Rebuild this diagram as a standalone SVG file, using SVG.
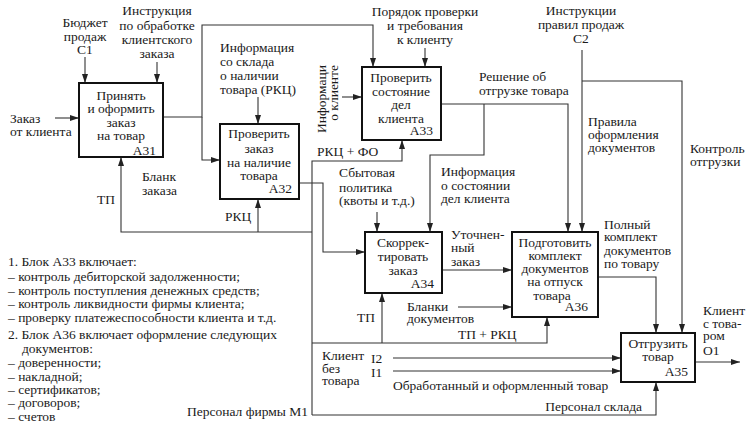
<svg xmlns="http://www.w3.org/2000/svg" width="755" height="426" viewBox="0 0 755 426">
<style>
text{font-family:"Liberation Serif","Times New Roman",serif;font-size:13.5px;fill:#1a1a1a}
.n{font-size:13.5px}
.c{text-anchor:middle}
.e{text-anchor:end}
.box{fill:#fff;stroke:#111;stroke-width:2}
.ln{fill:none;stroke:#333;stroke-width:1.1}
.a{marker-end:url(#ah)}
</style>
<defs>
<marker id="ah" viewBox="0 0 9 6" refX="9" refY="3" markerWidth="9" markerHeight="6" orient="auto" markerUnits="userSpaceOnUse">
<path d="M0,0 L9,3 L0,6 z" fill="#222"/>
</marker>
</defs>
<rect width="755" height="426" fill="#fff"/>
<g id="connectors">
<path class="ln a" d="M55,118 H79"/>
<path class="ln a" d="M85,57 V83"/>
<path class="ln a" d="M157,62 V83"/>
<path class="ln a" d="M163,117 H202 V25 H373 V67"/>
<path class="ln a" d="M202,117 V160 H220"/>
<path class="ln a" d="M258,97 V124"/>
<path class="ln a" d="M425,48 V67"/>
<path class="ln a" d="M342,97 H362"/>
<path class="ln a" d="M299,183 H323 V252 H365"/>
<path class="ln a" d="M312,232 V161 H402 V140"/>
<path class="ln a" d="M312,232 H121 V157"/>
<path class="ln a" d="M258,232 V199"/>
<path class="ln" d="M312,415 V232"/>
<path class="ln a" d="M382,343 V293"/>
<path class="ln a" d="M312,343 H547 V317"/>
<path class="ln a" d="M312,415 H656 V382"/>
<path class="ln a" d="M441,104 H568 V232"/>
<path class="ln a" d="M484,104 V155 H430 V232"/>
<path class="ln a" d="M377,212 V232"/>
<path class="ln a" d="M582,50 V232"/>
<path class="ln a" d="M582,81 H682 V333"/>
<path class="ln a" d="M442,270 H512"/>
<path class="ln a" d="M458,307 H512"/>
<path class="ln a" d="M598,277 H656 V333"/>
<path class="ln a" d="M393,358 H621"/>
<path class="ln a" d="M393,371 H621"/>
<path class="ln a" d="M695,362 H740"/>
</g>
<g id="A31">
<rect class="box" x="79" y="83" width="84" height="74"/>
<text class="c" x="121" y="100">Принять</text>
<text class="c" x="121" y="113">и оформить</text>
<text class="c" x="121" y="127">заказ</text>
<text class="c" x="121" y="140">на товар</text>
<text class="e" x="156" y="155">A31</text>
</g>
<g id="A32">
<rect class="box" x="220" y="124" width="79" height="75"/>
<text class="c" x="259" y="138">Проверить</text>
<text class="c" x="259" y="153">заказ</text>
<text class="c" x="259" y="167">на наличие</text>
<text class="c" x="259" y="180">товара</text>
<text class="e" x="292" y="193">A32</text>
</g>
<g id="A33">
<rect class="box" x="362" y="67" width="79" height="73"/>
<text class="c" x="401" y="82">Проверить</text>
<text class="c" x="401" y="96">состояние</text>
<text class="c" x="401" y="109">дел</text>
<text class="c" x="401" y="123">клиента</text>
<text class="e" x="433" y="135">A33</text>
</g>
<g id="A34">
<rect class="box" x="365" y="232" width="77" height="61"/>
<text class="c" x="403" y="247">Скоррек-</text>
<text class="c" x="403" y="261">тировать</text>
<text class="c" x="403" y="275">заказ</text>
<text class="e" x="434" y="288">A34</text>
</g>
<g id="A36">
<rect class="box" x="512" y="232" width="86" height="85"/>
<text class="c" x="555" y="247">Подготовить</text>
<text class="c" x="555" y="260">комплект</text>
<text class="c" x="555" y="273">документов</text>
<text class="c" x="555" y="286">на отпуск</text>
<text class="c" x="552" y="300">товара</text>
<text class="e" x="588" y="311">A36</text>
</g>
<g id="A35">
<rect class="box" x="621" y="333" width="74" height="49"/>
<text class="c" x="658" y="348">Отгрузить</text>
<text class="c" x="658" y="361">товар</text>
<text class="e" x="688" y="376">A35</text>
</g>
<g id="labels">
<text x="10" y="123">Заказ</text>
<text x="10" y="136">от клиента</text>
<text class="c" x="85" y="27">Бюджет</text>
<text class="c" x="85" y="41">продаж</text>
<text class="c" x="85" y="54">C1</text>
<text class="c" x="157" y="15">Инструкция</text>
<text class="c" x="157" y="30">по обработке</text>
<text class="c" x="157" y="44">клиентского</text>
<text class="c" x="157" y="58">заказа</text>
<text x="220" y="52">Информация</text>
<text x="220" y="66">со склада</text>
<text x="220" y="80">о наличии</text>
<text x="220" y="94">товара (РКЦ)</text>
<text class="c" x="425" y="16">Порядок проверки</text>
<text class="c" x="425" y="30">и требования</text>
<text class="c" x="425" y="44">к клиенту</text>
<text class="e" transform="translate(326,65) rotate(-90)">Информаци</text>
<text class="e" transform="translate(338,65) rotate(-90)">о клиенте</text>
<text x="479" y="81">Решение об</text>
<text x="479" y="95">отгрузке товара</text>
<text x="441" y="176">Информация</text>
<text x="441" y="190">о состоянии</text>
<text x="441" y="203">дел клиента</text>
<text class="c" x="581" y="15">Инструкции</text>
<text class="c" x="581" y="29">правил продаж</text>
<text class="c" x="581" y="43">C2</text>
<text x="588" y="126">Правила</text>
<text x="588" y="139">оформления</text>
<text x="588" y="152">документов</text>
<text x="690" y="153">Контроль</text>
<text x="690" y="166">отгрузки</text>
<text x="339" y="177">Сбытовая</text>
<text x="339" y="192">политика</text>
<text x="339" y="205">(квоты и т.д.)</text>
<text x="317" y="156">РКЦ + ФО</text>
<text x="142" y="181">Бланк</text>
<text x="142" y="195">заказа</text>
<text x="97" y="204">ТП</text>
<text x="225" y="221">РКЦ</text>
<text x="451" y="239">Уточнен-</text>
<text x="451" y="252">ный</text>
<text x="451" y="266">заказ</text>
<text x="407" y="311">Бланки</text>
<text x="407" y="323">документов</text>
<text x="357" y="322">ТП</text>
<text x="458" y="339">ТП + РКЦ</text>
<text x="604" y="229">Полный</text>
<text x="604" y="241">комплект</text>
<text x="604" y="255">документов</text>
<text x="604" y="268">по товару</text>
<text x="703" y="315">Клиент</text>
<text x="703" y="328">с това-</text>
<text x="703" y="340">ром</text>
<text x="703" y="355">O1</text>
<text x="322" y="360">Клиент</text>
<text x="322" y="373">без</text>
<text x="322" y="385">товара</text>
<text x="371" y="363">I2</text>
<text x="371" y="377">I1</text>
<text x="393" y="390">Обработанный и оформленный товар</text>
<text class="e" x="642" y="411">Персонал склада</text>
<text class="e" x="308" y="416">Персонал фирмы M1</text>
</g>
<g id="notes">
<text class="n" x="8" y="266">1. Блок A33 включает:</text>
<text class="n" x="8" y="281">– контроль дебиторской задолженности;</text>
<text class="n" x="8" y="295">– контроль поступления денежных средств;</text>
<text class="n" x="8" y="308">– контроль ликвидности фирмы клиента;</text>
<text class="n" x="8" y="322">– проверку платежеспособности клиента и т.д.</text>
<text class="n" x="8" y="339">2. Блок A36 включает оформление следующих</text>
<text class="n" x="22" y="353">документов:</text>
<text class="n" x="8" y="367">– доверенности;</text>
<text class="n" x="8" y="381">– накладной;</text>
<text class="n" x="8" y="394">– сертификатов;</text>
<text class="n" x="8" y="407">– договоров;</text>
<text class="n" x="8" y="421">– счетов</text>
</g>
</svg>
